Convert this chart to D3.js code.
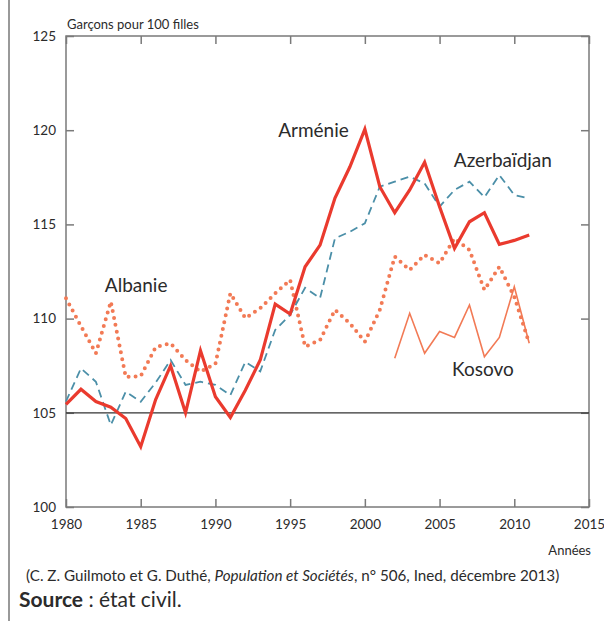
<!DOCTYPE html>
<html>
<head>
<meta charset="utf-8">
<script src="https://cdn.jsdelivr.net/npm/d3@7"></script>
<style>
  body { margin: 0; background: #fff; }
  text { font-family: Lato, "Open Sans", sans-serif; fill: #2b2b2b; }
</style>
</head>
<body>
<svg id="chart" width="604" height="621"></svg>
<script>
const years = d3.range(1980, 2012)
const armenie = [105.45, 106.25, 105.6, 105.3, 104.7, 103.2, 105.7, 107.5, 105.0, 108.3,
  105.85, 104.75, 106.2, 107.8, 110.77, 110.24, 112.75, 113.9, 116.4, 118.06,
  120.06, 117.0, 115.62, 116.83, 118.3, 115.94, 113.73, 115.14, 115.62, 113.94,
  114.15, 114.44]
const azerbaidjan = [105.6, 107.36, 106.65, 104.35, 106.12, 105.59, 106.6, 107.8, 106.48, 106.65,
  106.48, 105.94, 107.7, 107.2, 109.4, 110.2, 111.64, 111.08, 114.26, 114.61,
  115.06, 117.0, 117.27, 117.53, 117.18, 115.94, 116.83, 117.27, 116.44, 117.62,
  116.56, 116.38]
const albanie = [111.08, 109.6, 108.16, 110.9, 106.9, 106.95, 108.48, 108.69, 107.8, 107.18,
  107.6, 111.34, 110.02, 110.55, 111.34, 112.05, 108.51, 108.86, 110.46, 109.75,
  108.77, 110.46, 113.29, 112.58, 113.38, 112.93, 114.26, 113.64, 111.52, 112.75,
  111.16, 108.69]
const kosovoYears = d3.range(2002, 2012)
const kosovo = [107.89, 110.28, 108.16, 109.31, 109.0, 110.72, 107.98, 109.0, 111.69, 108.69]

const xTicks = [1980, 1985, 1990, 1995, 2000, 2005, 2010, 2015]
const yTicks = [100, 105, 110, 115, 120, 125]

const svg = d3.select('#chart')
const plot = { left: 66, right: 589, top: 36, bottom: 507 }
const x = d3.scaleLinear().domain([1980, 2015]).range([plot.left, plot.right])
const y = d3.scaleLinear().domain([100, 125]).range([plot.bottom, plot.top])

// page border on the left
svg.append('line')
  .attr('x1', 9).attr('x2', 9).attr('y1', 0).attr('y2', 621)
  .style('stroke', '#777').style('stroke-width', 1.5)

// frame with inward ticks
const frame = svg.append('g')
frame.append('rect')
  .attr('x', plot.left).attr('y', plot.top)
  .attr('width', plot.right - plot.left).attr('height', plot.bottom - plot.top)
  .style('fill', 'none').style('stroke', '#7a7a7a').style('stroke-width', 1.5)

frame.append('g').attr('transform', `translate(0,${plot.bottom})`)
  .call(d3.axisBottom(x).tickValues(xTicks).tickSize(-8).tickSizeOuter(0).tickFormat(d3.format('d')).tickPadding(12))
frame.append('g').attr('transform', `translate(0,${plot.top})`)
  .call(d3.axisTop(x).tickValues(xTicks).tickSize(-8).tickSizeOuter(0).tickFormat(''))
frame.append('g').attr('transform', `translate(${plot.left},0)`)
  .call(d3.axisLeft(y).tickValues(yTicks).tickSize(-8).tickSizeOuter(0).tickPadding(10))
frame.append('g').attr('transform', `translate(${plot.right},0)`)
  .call(d3.axisRight(y).tickValues(yTicks).tickSize(-8).tickSizeOuter(0).tickFormat(''))
frame.selectAll('.domain').remove()
frame.selectAll('.tick line').style('stroke', '#7a7a7a').style('stroke-width', 1.5)
frame.selectAll('.tick text')
  .style('font-family', 'Lato, sans-serif').style('font-size', '13.5px').style('fill', '#2b2b2b')

// reference line at 105
svg.append('line')
  .attr('x1', plot.left).attr('x2', plot.right).attr('y1', y(105)).attr('y2', y(105))
  .style('stroke', '#333').style('stroke-width', 1.2)

const line = d3.line().x(d => x(d[0])).y(d => y(d[1]))
const series = [
  { data: d3.zip(years, albanie), color: '#f27a55', width: 4, dash: '0,7', cap: 'round' },
  { data: d3.zip(kosovoYears, kosovo), color: '#f27a55', width: 1.6, dash: null, cap: 'butt' },
  { data: d3.zip(years, azerbaidjan), color: '#4b8fa8', width: 1.8, dash: '8,5', cap: 'butt' },
  { data: d3.zip(years, armenie), color: '#ea3a2e', width: 3.2, dash: null, cap: 'butt' }
]
svg.selectAll('.serie').data(series).enter().append('path')
  .classed('serie', true)
  .attr('d', s => line(s.data))
  .style('fill', 'none')
  .style('stroke', s => s.color)
  .style('stroke-width', s => s.width)
  .style('stroke-dasharray', s => s.dash)
  .style('stroke-linecap', s => s.cap)
  .style('stroke-linejoin', 'miter')

// series labels
const labels = [
  { text: 'Albanie', year: 1982.6, value: 111.4 },
  { text: 'Arménie', year: 1994.2, value: 119.64 },
  { text: 'Azerbaïdjan', year: 2005.95, value: 118.05 },
  { text: 'Kosovo', year: 2005.84, value: 106.95 }
]
svg.selectAll('.lbl').data(labels).enter().append('text')
  .classed('lbl', true)
  .attr('x', d => x(d.year)).attr('y', d => y(d.value))
  .style('font-size', '19px')
  .text(d => d.text)

svg.append('text').attr('x', 67).attr('y', 29).style('font-size', '13px').text('Garçons pour 100 filles')
svg.append('text').attr('x', 591).attr('y', 555).attr('text-anchor', 'end').style('font-size', '13px').text('Années')

const foot = svg.append('text').attr('x', 26).attr('y', 581).style('font-size', '15.2px')
foot.append('tspan').text('(C. Z. Guilmoto et G. Duthé, ')
foot.append('tspan').style('font-style', 'italic').text('Population et Sociétés')
foot.append('tspan').text(', n° 506, Ined, décembre 2013)')

const src = svg.append('text').attr('x', 19).attr('y', 607).style('font-size', '21px')
src.append('tspan').style('font-weight', 'bold').text('Source')
src.append('tspan').text(' : état civil.')
</script>
</body>
</html>
